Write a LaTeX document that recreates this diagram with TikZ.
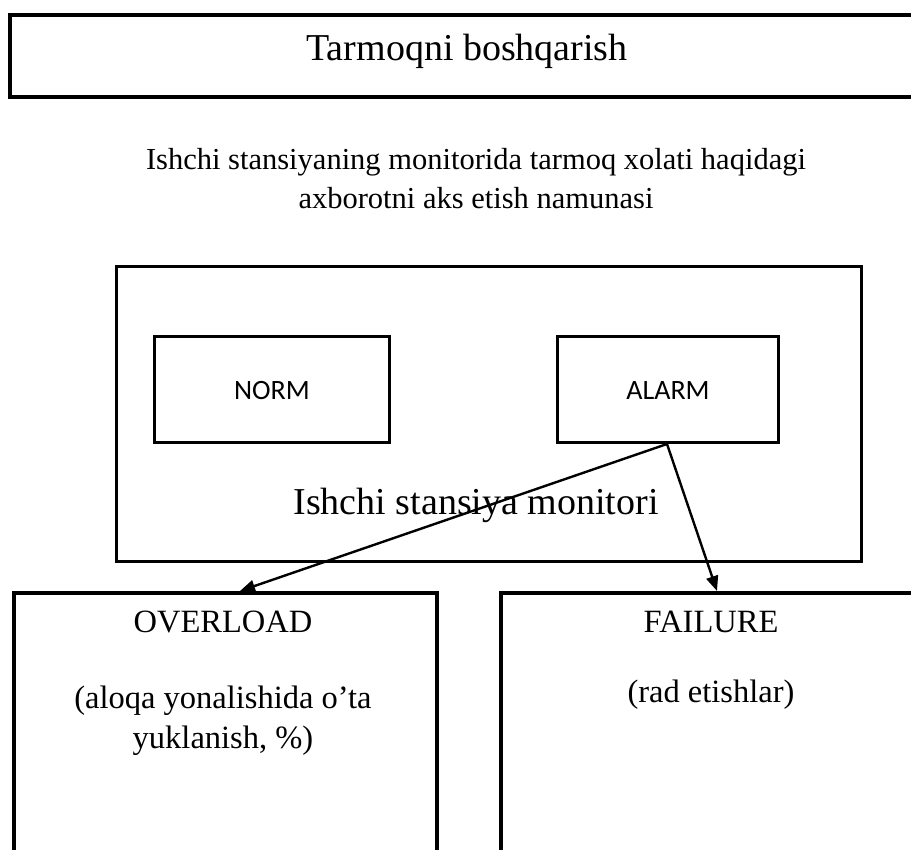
\documentclass[tikz,border=0pt]{standalone}
\usepackage{fontspec}
\setmainfont{Liberation Serif}
\newfontfamily\calibri{Carlito}
\usetikzlibrary{arrows.meta,calc}
\begin{document}
\begin{tikzpicture}[x=1pt,y=-1pt,
  frame/.style={draw=black,line width=4pt,anchor=north west,inner sep=0pt},
  panel/.style={draw=black,line width=3pt,anchor=north west,inner sep=0pt},
  label/.style={inner sep=0pt,anchor=base},
  link/.style={line width=2.4pt,-{Triangle[length=15pt,width=12pt]}},
]
\useasboundingbox (0,0) rectangle (911,850);
\clip (0,0) rectangle (911,850);

% heading bar, running off the right edge
\node[frame,minimum width=930pt,minimum height=82pt] (head) at (8,13) {};
\node[label,font=\fontsize{38}{44}\selectfont] (headtext) at (467,61) {Tarmoqni boshqarish};

% caption under the heading
\node[label,font=\fontsize{30.5}{40}\selectfont] (cap1) at (476,170)
  {Ishchi stansiyaning monitorida tarmoq xolati haqidagi};
\node[label,font=\fontsize{30.5}{40}\selectfont] (cap2) at (476,209)
  {axborotni aks etish namunasi};

% workstation monitor
\node[panel,minimum width=745pt,minimum height=295pt] (monitor) at (115,265) {};
\node[panel,minimum width=235pt,minimum height=106pt] (norm) at (153,335) {};
\node[label,font=\calibri\fontsize{28}{34}\selectfont] at ($(norm.center)+(0,10)$) {NORM};
\node[panel,minimum width=221pt,minimum height=106pt] (alarm) at (556,335) {};
\node[label,font=\calibri\fontsize{28}{34}\selectfont] at ($(alarm.center)+(0,10)$) {ALARM};
\node[label,font=\fontsize{38}{44}\selectfont] (montext) at (476,514) {Ishchi stansiya monitori};

% alarm categories, running off the lower edge
\node[frame,minimum width=423pt,minimum height=300pt] (overload) at (12,591) {};
\node[label,font=\fontsize{32.5}{40}\selectfont] at (223,632) {OVERLOAD};
\node[label,font=\fontsize{32.5}{40}\selectfont] at (223,708) {(aloqa yonalishida o’ta};
\node[label,font=\fontsize{32.5}{40}\selectfont] at (223,748) {yuklanish, \%)};

\node[frame,minimum width=430pt,minimum height=300pt] (failure) at (499,591) {};
\node[label,font=\fontsize{32.5}{40}\selectfont] at (711,632) {FAILURE};
\node[label,font=\fontsize{32.5}{40}\selectfont] at (711,702) {(rad etishlar)};

% connectors from the alarm panel
\coordinate (fork) at ($(alarm.south west)+(111,0)$);
\coordinate (toover) at ($(overload.north west)+(228,0)$);
\coordinate (tofail) at ($(failure.north west)+(218,0)$);
\draw[link] (fork) -- (toover);
\draw[link] (fork) -- (tofail);
\end{tikzpicture}
\end{document}
